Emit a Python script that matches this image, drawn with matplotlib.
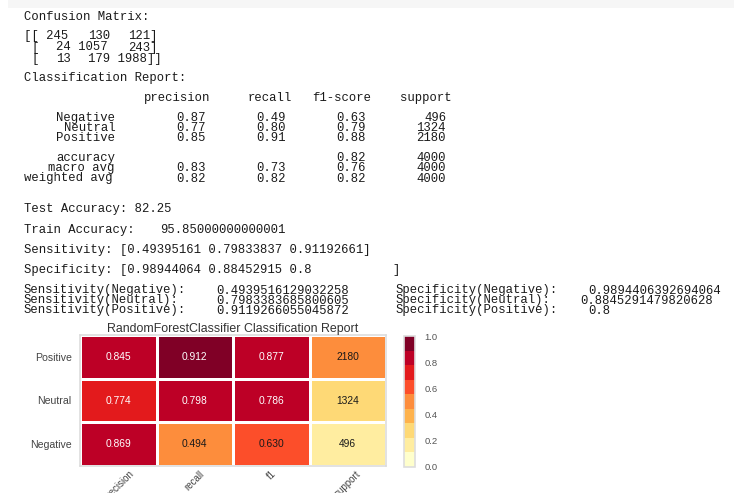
import re
import numpy as np
import matplotlib
matplotlib.use("Agg")
import matplotlib.pyplot as plt
from matplotlib.colors import ListedColormap
from matplotlib.patches import Rectangle

# ---- data ----
class_names = ["Negative", "Neutral", "Positive"]
confusion = np.array([[245, 130, 121],
                      [24, 1057, 243],
                      [13, 179, 1988]])

report_precision = [0.87, 0.77, 0.85]
report_recall = [0.49, 0.80, 0.91]
report_f1 = [0.63, 0.79, 0.88]
report_support = [496, 1324, 2180]
accuracy_f1 = 0.82
macro_avg = [0.83, 0.73, 0.76]
weighted_avg = [0.82, 0.82, 0.82]
total_support = 4000

test_accuracy = "82.25"
train_accuracy = "95.85000000000001"

metric_labels = ["precision", "recall", "f1", "support"]
heat_precision = [0.869, 0.774, 0.845]
heat_recall = [0.494, 0.798, 0.912]
heat_f1 = [0.630, 0.786, 0.877]
heat_support = [496, 1324, 2180]

palette = ["#ffffcc", "#ffeda0", "#fed976", "#feb24c", "#fd8d3c",
           "#fc4e2a", "#e31a1c", "#bd0026", "#800026"]

# ---- derived per-class rates from the confusion matrix ----
tp = np.diag(confusion).astype(float)
fn = confusion.sum(axis=1) - tp
fp = confusion.sum(axis=0) - tp
tn = confusion.sum() - tp - fn - fp
sensitivity = tp / (tp + fn)
specificity = tn / (tn + fp)

W, H = 734, 493
fig = plt.figure(figsize=(W / 100, H / 100), dpi=100)
fig.patch.set_facecolor("white")

# faint strip along the top edge
fig.patches.append(Rectangle((8 / W, 1 - 8 / H), 1, 8 / H, transform=fig.transFigure,
                             facecolor="#f6f6f6", edgecolor="none", zorder=0))

mono = dict(family="Liberation Mono", fontsize=8.8, color="#1a1a1a", va="center", ha="left")
CW = 8.0   # console column width in pixels
X0 = 24


def put(text, x, y):
    """Lay out a console line on a fixed character grid, one field at a time."""
    for m in re.finditer(r"\S+(?: \S+)*", text):
        fig.text((x + m.start() * CW) / W, 1 - y / H, m.group(), **mono)


# ---- printed console output ----
put("Confusion Matrix:", X0, 17)
cm_lines = str(confusion).split("\n")
for line, y in zip(cm_lines, [36, 47.5, 59]):
    put(line, X0, y)

put("Classification Report:", X0, 78)
header = " " + " " * 12 + " " + "".join(" {:>9}".format(h) for h in
                                        ["precision", "recall", "f1-score", "support"])
put(header, X0, 98)
row_fmt = "{:>12} " + " {:>9.2f}" * 3 + " {:>9}"
for name, p, r, f, s, y in zip(class_names, report_precision, report_recall,
                               report_f1, report_support, [118, 128, 138]):
    put(row_fmt.format(name, p, r, f, s), X0, y)
put("{:>12} ".format("accuracy") + " {:>9}".format("") * 2 +
    " {:>9.2f}".format(accuracy_f1) + " {:>9}".format(total_support), X0, 158)
put(row_fmt.format("macro avg", *macro_avg, total_support), X0, 168.5)
put(row_fmt.format("weighted avg", *weighted_avg, total_support), X0, 178.5)

put("Test Accuracy: " + test_accuracy, X0, 209)
put("Train Accuracy:  " + train_accuracy, X0, 230)
put("Sensitivity: " + np.array2string(sensitivity), X0, 250)
put("Specificity: " + np.array2string(specificity), X0, 270)

sens_pad = ["  ", "   ", "  "]
spec_pad = ["  ", "  ", "  "]
for i, (name, y) in enumerate(zip(class_names, [290.5, 300.5, 310.5])):
    put("Sensitivity({}):{}{}".format(name, sens_pad[i], float(sensitivity[i])), X0, y)
    put("Specificity({}):{}{}".format(name, spec_pad[i], float(specificity[i])), 396, y)

# ---- classification report heatmap ----
sans = "Liberation Sans"
support_scaled = [s / total_support for s in heat_support]
values = np.array([heat_precision, heat_recall, heat_f1, support_scaled]).T
cmap = ListedColormap(palette)

ax = fig.add_axes([80 / W, 1 - 466 / H, 306 / W, 131 / H])
mesh = ax.pcolormesh(np.arange(5), np.arange(4), values, cmap=cmap, vmin=0, vmax=1,
                     edgecolors="white", linewidth=1.0)


def text_color(rgb):
    lum = 0.299 * rgb[0] + 0.587 * rgb[1] + 0.114 * rgb[2]
    return "white" if lum < 0.45 else "#1a1a1a"


for i in range(3):
    cells = [heat_precision[i], heat_recall[i], heat_f1[i]]
    for j, v in enumerate(cells):
        ax.text(j + 0.5, i + 0.5, "{:.3f}".format(v), ha="center", va="center",
                fontsize=7.4, family=sans, color=text_color(cmap(v)))
    ax.text(3.5, i + 0.5, "{:d}".format(heat_support[i]), ha="center", va="center",
            fontsize=7.4, family=sans, color=text_color(cmap(support_scaled[i])))

ax.set_xlim(0, 4)
ax.set_ylim(0, 3)
ax.set_xticks(np.arange(4) + 0.5)
ax.set_xticklabels(metric_labels, rotation=45, fontsize=7, family=sans, color="#444444")
ax.set_yticks(np.arange(3) + 0.5)
ax.set_yticklabels(class_names, fontsize=7.6, family=sans, color="#444444")
ax.tick_params(length=0, pad=6)
ax.tick_params(axis="x", pad=2)
for sp in ax.spines.values():
    sp.set_color("#dddddd")
    sp.set_linewidth(1.2)
ax.set_title("RandomForestClassifier Classification Report", fontsize=8.9,
             family=sans, color="#333333", pad=1.5)

cax = fig.add_axes([404 / W, 1 - 467 / H, 11 / W, 131 / H])
cb = fig.colorbar(mesh, cax=cax, ticks=[0, 0.2, 0.4, 0.6, 0.8, 1.0])
cb.ax.tick_params(length=0, pad=7, labelsize=6.8, labelcolor="#555555")
for lab in cb.ax.get_yticklabels():
    lab.set_family(sans)
cb.outline.set_edgecolor("#dddddd")
cb.outline.set_linewidth(1.2)

fig.savefig("out.png", dpi=100)
